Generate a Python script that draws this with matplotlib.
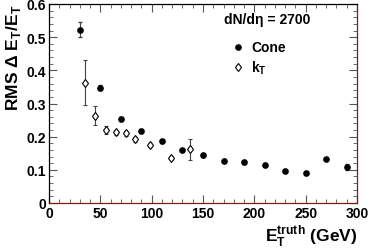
import matplotlib.pyplot as plt
from matplotlib.lines import Line2D
from matplotlib.ticker import MultipleLocator

plt.rcParams['font.family'] = ['Liberation Sans', 'DejaVu Sans']
plt.rcParams['font.weight'] = 'bold'
plt.rcParams['axes.labelweight'] = 'bold'

# Cone jets
cone_et = [30, 50, 70, 90, 110, 130, 150, 170, 190, 210, 230, 250, 270, 290]
cone_rms = [0.523, 0.348, 0.253, 0.218, 0.186, 0.160, 0.144, 0.128, 0.123,
            0.115, 0.097, 0.090, 0.133, 0.108]
cone_err = [0.024, 0.008, 0.005, 0.005, 0.004, 0.004, 0.004, 0.004, 0.004,
            0.004, 0.004, 0.004, 0.004, 0.010]

# kT jets
kt_et = [35.4, 45.2, 55.6, 65.3, 74.7, 84.2, 98.1, 118.6, 137.5]
kt_rms = [0.362, 0.263, 0.220, 0.213, 0.210, 0.192, 0.176, 0.137, 0.162]
kt_err = [0.068, 0.028, 0.012, 0.008, 0.008, 0.008, 0.006, 0.006, 0.031]

fig = plt.figure(figsize=(3.74, 2.53), dpi=100)
ax = fig.add_axes([49 / 374, 1 - 204 / 253, 308 / 374, 199 / 253])

ax.errorbar(cone_et, cone_rms, yerr=cone_err, fmt='o', color='black',
            ecolor='#444444', elinewidth=0.8, capsize=1.5, markersize=3.8)
ax.errorbar(kt_et, kt_rms, yerr=kt_err, fmt='d', color='black',
            markerfacecolor='white', markeredgewidth=0.8,
            ecolor='#444444', elinewidth=0.8, capsize=1.5, markersize=4.5)

ax.set_xlim(0, 300)
ax.set_ylim(0, 0.6)
ax.xaxis.set_major_locator(MultipleLocator(50))
ax.xaxis.set_minor_locator(MultipleLocator(10))
ax.yaxis.set_major_locator(MultipleLocator(0.1))
ax.yaxis.set_minor_locator(MultipleLocator(0.02))
ax.yaxis.set_major_formatter(plt.FuncFormatter(lambda v, p: '0' if v == 0 else '%g' % v))
ax.tick_params(which='both', direction='in', top=True, right=True,
               color='#555555', labelsize=10)
ax.tick_params(which='major', length=6, width=0.8)
ax.tick_params(which='minor', length=3, width=0.6)
ax.tick_params(axis='x', pad=2)
ax.tick_params(axis='y', pad=2)

ax.spines['right'].set_color('#7a1f14')
ax.spines['bottom'].set_color('#7a1f14')
for s in ax.spines.values():
    s.set_linewidth(0.9)

ax.set_ylabel('RMS Δ E$_\\mathregular{T}$/E$_\\mathregular{T}$', fontsize=12.5,
              loc='top', labelpad=3)
ax.set_xlabel('E$_\\mathregular{T}^\\mathregular{truth}$ (GeV)', fontsize=12.5,
              loc='right', labelpad=2)

ax.text(0.568, 0.905, 'dN/dη = 2700', transform=ax.transAxes, fontsize=10)
handles = [
    Line2D([], [], ls='none', marker='o', color='black', markersize=3.8),
    Line2D([], [], ls='none', marker='d', color='black', markerfacecolor='white',
           markeredgewidth=0.8, markersize=4.5),
]
ax.legend(handles, ['Cone', 'k$_\\mathregular{T}$'], loc='upper left',
          bbox_to_anchor=(0.55, 0.88), frameon=False, fontsize=10,
          handlelength=1.0, handletextpad=0.45, labelspacing=0.3)

fig.savefig('out.png', dpi=100)
